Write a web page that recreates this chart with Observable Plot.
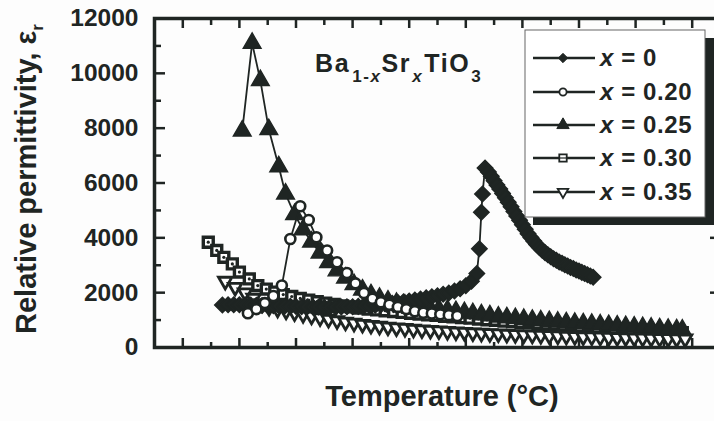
<!DOCTYPE html>
<html>
<head>
<meta charset="utf-8">
<script src="https://cdn.jsdelivr.net/npm/d3@7"></script>
<script src="https://cdn.jsdelivr.net/npm/@observablehq/plot@0.6"></script>
<style>
  html, body { margin: 0; padding: 0; background: #fdfdfd; }
  #chart { position: relative; width: 714px; height: 421px; overflow: hidden; }
  #chart svg { display: block; max-width: none !important; }
</style>
</head>
<body>
<div id="chart"></div>
<script>
// Ba(1-x)Sr(x)TiO3 ceramics: relative permittivity vs temperature (°C)

// x = 0
const tempX000 = [34, 36, 38, 40, 42, 44, 46, 48, 50, 52, 54, 56, 58, 60, 62, 64, 66, 68, 70, 72, 74, 76, 78,
  80, 82, 84, 86, 88, 90, 92, 94, 96, 98, 100, 102, 104, 106, 108, 110, 112, 114, 116, 118, 120, 122,
  123.9, 124.8, 125.5, 125.9, 126.8, 128, 129, 130, 131, 132, 133, 134, 135, 136, 137, 138, 139, 140, 141,
  142, 143, 144, 145, 146, 147, 148, 149, 150, 151, 152, 153, 154, 155, 156, 157, 158, 159, 160, 161, 162,
  163, 164, 165];
const epsX000 = [1550, 1560, 1560, 1560, 1555, 1550, 1540, 1535, 1525, 1520, 1510, 1505, 1500, 1495, 1490,
  1485, 1480, 1475, 1470, 1470, 1470, 1475, 1485, 1490, 1500, 1515, 1525, 1540, 1560, 1580, 1610, 1640, 1670,
  1700, 1730, 1770, 1810, 1850, 1890, 1940, 1990, 2060, 2140, 2250, 2420,
  2700, 3600, 4930, 5600, 6550, 6400, 6250, 6080, 5930, 5780, 5620, 5460, 5300, 5130, 4960, 4800, 4640, 4480,
  4310, 4150, 4010, 3880, 3760, 3650, 3550, 3460, 3380, 3310, 3240, 3180, 3120, 3070, 3020, 2970, 2920, 2880,
  2830, 2790, 2740, 2700, 2650, 2610, 2560];

// x = 0.20
const tempX020 = [43, 46, 49, 52, 55, 58, 61.5, 64.5, 67.2, 71, 74.5, 78, 81, 84, 87, 90, 93, 96, 99, 102,
  105, 108, 111, 114, 117];
const epsX020 = [1250, 1400, 1620, 1880, 2260, 3960, 5150, 4650, 4020, 3540, 3110, 2720, 2340, 1990, 1780,
  1650, 1560, 1480, 1400, 1320, 1270, 1240, 1210, 1180, 1150];

// x = 0.25
const tempX025 = [41, 44.5, 47.4, 50.4, 53.9, 56.3, 59.5, 62.5, 65.5, 68.5, 71.5, 74.5, 77.5, 80.5, 83.5,
  86.5, 89.5, 92.5, 95.5, 98.5, 101.5, 104.5, 107.5, 110.5, 113.5, 116.5, 119.5, 122.5, 125.5, 128.5, 131.5,
  134.5, 137.5, 140.5, 143.5, 146.5, 149.5, 152.5, 155.5, 158.5, 161.5, 164.5, 167.5, 170.5, 173.5, 176.5,
  179.5, 182.5, 185.5, 188.5, 191.5, 194.5, 196.5];
const epsX025 = [7900, 11100, 9740, 7950, 6600, 5600, 4850, 4300, 3850, 3450, 3100, 2800, 2540, 2300, 2100,
  1930, 1800, 1700, 1620, 1550, 1490, 1450, 1420, 1390, 1360, 1320, 1280, 1240, 1200, 1160, 1120, 1090, 1060,
  1030, 1000, 975, 950, 930, 910, 890, 870, 850, 830, 810, 790, 770, 750, 730, 710, 690, 670, 650, 640];

// x = 0.30
const tempX030 = [29, 32, 34.5, 37.5, 40, 43.5, 46.5, 49.5, 52.5, 55.5, 58.5, 61.5, 64.5, 67.5, 70.5, 73.5,
  76.5, 79.5, 82.5, 85.5, 88.5, 91.5, 94.5, 97.5, 100.5, 103.5, 106.5, 109.5, 112.5, 115.5, 118.5, 121.5,
  124.5, 127.5, 130.5, 133.5, 136.5, 139.5, 142.5, 145.5, 148.5, 151.5, 154.5, 157.5, 160.5, 163.5, 166.5,
  169.5, 172.5, 175.5, 178.5, 181.5, 184.5, 187.5, 190.5, 193.5, 196.5];
const epsX030 = [3840, 3540, 3290, 3050, 2750, 2500, 2260, 2130, 2020, 1930, 1860, 1790, 1730, 1670, 1620,
  1570, 1520, 1480, 1440, 1400, 1370, 1340, 1310, 1280, 1250, 1220, 1190, 1170, 1140, 1120, 1090, 1070, 1040,
  1010, 990, 960, 940, 920, 900, 880, 860, 840, 820, 800, 780, 760, 740, 720, 700, 680, 660, 640, 620, 600,
  580, 560, 540];

// x = 0.35
const tempX035 = [35, 38.5, 42, 45, 48, 50.5, 53.5, 56.5, 59.5, 62.5, 65.5, 68.5, 71.5, 74.5, 77.5, 80.5,
  83.5, 86.5, 89.5, 92.5, 95.5, 98.5, 101.5, 104.5, 107.5, 110.5, 113.5, 116.5, 119.5, 122.5, 125.5, 128.5,
  131.5, 134.5, 137.5, 140.5, 143.5, 146.5, 149.5, 152.5, 155.5, 158.5, 161.5, 164.5, 167.5, 170.5, 173.5,
  176.5, 179.5, 182.5, 185.5, 188.5, 191.5, 194.5, 197.5];
const epsX035 = [2420, 2200, 2000, 1800, 1600, 1470, 1400, 1330, 1270, 1210, 1150, 1090, 1030, 980, 930, 890,
  850, 810, 780, 750, 720, 700, 670, 650, 630, 610, 590, 570, 555, 540, 525, 510, 500, 485, 475, 465, 455, 445,
  435, 425, 415, 405, 395, 388, 380, 372, 365, 358, 351, 344, 338, 332, 326, 320, 315];

// Axis ticks (temperature ticks are unlabelled)
const yTicksMajor = [0, 2000, 4000, 6000, 8000, 10000, 12000];
const yTicksMinor = [1000, 3000, 5000, 7000, 9000, 11000];
const xTicksMajor = [20, 40, 60, 80, 100, 120, 140, 160, 180, 200];
const xTicksMinor = [30, 50, 70, 90, 110, 130, 150, 170, 190];

// Legend entries
const legendLabels = ["0", "0.20", "0.25", "0.30", "0.35"];

const ink = "#1f2523";
const font = "'Liberation Sans', Arial, Helvetica, sans-serif";

const rows = (t, e) => t.map((v, i) => ({t: v, e: e[i]}));
const s000 = rows(tempX000, epsX000);
const s020 = rows(tempX020, epsX020);
const s025 = rows(tempX025, epsX025);
const s030 = rows(tempX030, epsX030);
const s035 = rows(tempX035, epsX035);

const lineOpts = {x: "t", y: "e", stroke: ink, strokeWidth: 1.8};

const plot = Plot.plot({
  width: 730,
  height: 421,
  marginLeft: 154,
  marginRight: 10,
  marginTop: 18,
  marginBottom: 74,
  style: {fontFamily: font, background: "transparent", color: ink},
  x: {domain: [10, 210]},
  y: {domain: [0, 12000]},
  marks: [
    // inward ticks on all four sides
    Plot.axisY({ticks: yTicksMajor, anchor: "left", tickSize: -11, fill: "none", strokeWidth: 2.5, label: null}),
    Plot.axisY({ticks: yTicksMinor, anchor: "left", tickSize: -7, fill: "none", strokeWidth: 2.5, label: null}),
    Plot.axisY({ticks: yTicksMajor, anchor: "right", tickSize: -11, fill: "none", strokeWidth: 2.5, label: null}),
    Plot.axisY({ticks: yTicksMinor, anchor: "right", tickSize: -7, fill: "none", strokeWidth: 2.5, label: null}),
    Plot.axisY({ticks: yTicksMajor, anchor: "left", tickSize: 0, tickPadding: 16, fontSize: 24.5,
      fontWeight: "bold", tickFormat: d3.format("d"), label: null}),
    Plot.axisX({ticks: xTicksMajor, anchor: "bottom", tickSize: -9, fill: "none", strokeWidth: 2.5, label: null}),
    Plot.axisX({ticks: xTicksMinor, anchor: "bottom", tickSize: -5, fill: "none", strokeWidth: 2.5, label: null}),
    Plot.axisX({ticks: xTicksMajor, anchor: "top", tickSize: -9, fill: "none", strokeWidth: 2.5, label: null}),
    Plot.axisX({ticks: xTicksMinor, anchor: "top", tickSize: -6, fill: "none", strokeWidth: 2.5, label: null}),

    // x = 0.30 : dotted squares
    Plot.line(s030, lineOpts),
    Plot.dot(s030, {x: "t", y: "e", symbol: "square", r: 5.6, fill: "white", stroke: ink, strokeWidth: 3.4}),
    Plot.dot(s030, {x: "t", y: "e", r: 1.6, fill: ink}),
    // x = 0.25 : filled triangles
    Plot.line(s025, lineOpts),
    Plot.dot(s025, {x: "t", y: "e", symbol: "triangle", r: 6.6, fill: ink, stroke: ink, strokeWidth: 1.4}),
    // x = 0.35 : open down-triangles
    Plot.line(s035, lineOpts),
    Plot.dot(s035, {x: "t", y: "e", symbol: "triangle", rotate: 180, r: 5, fill: "white", stroke: ink, strokeWidth: 2.8}),
    // x = 0 : filled diamonds
    Plot.line(s000, lineOpts),
    Plot.dot(s000, {x: "t", y: "e", symbol: "diamond2", r: 7, fill: ink, stroke: ink, strokeWidth: 1.4}),
    // x = 0.20 : open circles
    Plot.line(s020, lineOpts),
    Plot.dot(s020, {x: "t", y: "e", symbol: "circle", r: 5, fill: "white", stroke: ink, strokeWidth: 2.6}),

    Plot.frame({stroke: ink, strokeWidth: 3.5})
  ]
});

document.getElementById("chart").appendChild(plot);

const svg = d3.select(plot);

// Axis titles
svg.append("text")
  .attr("x", 442).attr("y", 406)
  .attr("text-anchor", "middle")
  .attr("font-family", font).attr("font-size", 29).attr("font-weight", "bold").attr("fill", ink)
  .text("Temperature (°C)");

const yTitle = svg.append("text")
  .attr("transform", "translate(36,179) rotate(-90)")
  .attr("text-anchor", "middle")
  .attr("font-family", font).attr("font-size", 29).attr("font-weight", "bold").attr("fill", ink);
yTitle.append("tspan").text("Relative permittivity, ε");
yTitle.append("tspan").attr("dy", 7).attr("font-size", 17).text("r");

// Composition formula
const formula = svg.append("text")
  .attr("x", 315).attr("y", 72)
  .attr("text-anchor", "start")
  .attr("font-family", font).attr("font-size", 25).attr("font-weight", "bold")
  .attr("letter-spacing", 1.6).attr("fill", ink);
formula.append("tspan").text("Ba");
formula.append("tspan").attr("dy", 10).attr("dx", 2).attr("font-size", 17).text("1-");
formula.append("tspan").attr("font-size", 17).attr("font-style", "italic").text("x");
formula.append("tspan").attr("dy", -10).text("Sr");
formula.append("tspan").attr("dy", 10).attr("dx", 1).attr("font-size", 17).attr("font-style", "italic").text("x");
formula.append("tspan").attr("dy", -10).attr("dx", 1).text("TiO");
formula.append("tspan").attr("dy", 10).attr("dx", 1).attr("font-size", 17).text("3");

// Legend box with drop shadow
const lg = svg.append("g");
lg.append("rect").attr("x", 533).attr("y", 38).attr("width", 190).attr("height", 187).attr("fill", ink);
lg.append("rect").attr("x", 525).attr("y", 30).attr("width", 180).attr("height", 187)
  .attr("fill", "white").attr("stroke", "#666").attr("stroke-width", 1);

const legendSymbols = [
  {type: d3.symbolDiamond2, r: 4.2, fill: ink, stroke: ink, sw: 1, rot: 0},
  {type: d3.symbolCircle, r: 3.6, fill: "white", stroke: ink, sw: 1.8, rot: 0},
  {type: d3.symbolTriangle, r: 4.6, fill: ink, stroke: ink, sw: 1, rot: 0},
  {type: d3.symbolSquare, r: 4.2, fill: "white", stroke: ink, sw: 1.8, rot: 0},
  {type: d3.symbolTriangle, r: 3.9, fill: "white", stroke: ink, sw: 1.8, rot: 180}
];
const rowY = [58, 92, 125, 158, 192];

legendLabels.forEach((lab, i) => {
  const y = rowY[i];
  const s = legendSymbols[i];
  lg.append("line").attr("x1", 533).attr("x2", 595).attr("y1", y).attr("y2", y)
    .attr("stroke", ink).attr("stroke-width", 2.5);
  lg.append("path")
    .attr("d", d3.symbol(s.type, Math.PI * s.r * s.r)())
    .attr("transform", `translate(563,${y}) rotate(${s.rot})`)
    .attr("fill", s.fill).attr("stroke", s.stroke).attr("stroke-width", s.sw);
  if (i === 3) {
    lg.append("line").attr("x1", 560).attr("x2", 566).attr("y1", y).attr("y2", y)
      .attr("stroke", ink).attr("stroke-width", 1.2);
  }
  const t = lg.append("text")
    .attr("x", 600).attr("y", y + 8)
    .attr("text-anchor", "start")
    .attr("font-family", font).attr("font-size", 24).attr("font-weight", "bold")
    .attr("letter-spacing", 0.6).attr("fill", ink);
  t.append("tspan").attr("font-style", "italic").text("x");
  t.append("tspan").text(" = " + lab);
});
</script>
</body>
</html>
